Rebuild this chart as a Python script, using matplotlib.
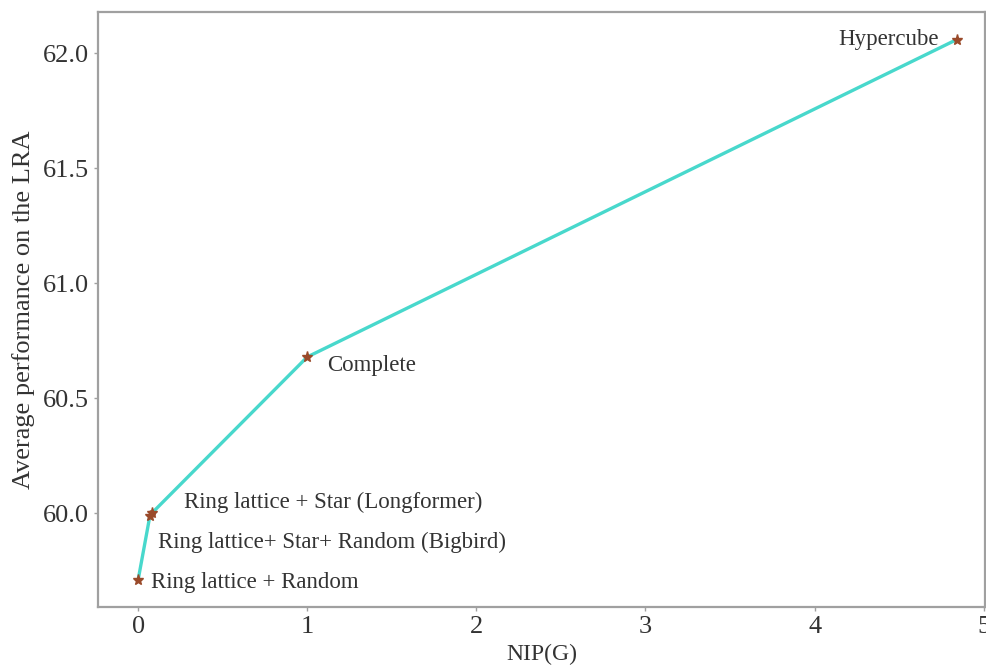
import matplotlib
matplotlib.use("Agg")
import matplotlib.pyplot as plt

# NIP(G) vs average LRA performance
names = ["Ring lattice + Random",
         "Ring lattice+ Star+ Random (Bigbird)",
         "Ring lattice + Star (Longformer)",
         "Complete",
         "Hypercube"]
nip = [0.0, 0.07, 0.08, 1.0, 4.84]
perf = [59.71, 59.99, 60.00, 60.68, 62.06]

# label offsets in points, and horizontal alignment
offsets = [(9, -2), (6, -19), (23, 8), (14, -6), (-13, 0)]
aligns = ["left", "left", "left", "left", "right"]

plt.rcParams["font.family"] = ["Liberation Serif", "DejaVu Serif"]

fig = plt.figure(figsize=(9.86, 6.66), dpi=100)
ax = fig.add_axes([0.0994, 0.0886, 0.90, 0.8934])

ax.plot(nip, perf, color="#48d8cc", lw=2.4, zorder=2)
ax.plot(nip, perf, ls="none", marker="*", ms=8, color="#9a4a2a", zorder=3)

for n, x, y, off, ha in zip(names, nip, perf, offsets, aligns):
    ax.annotate(n, (x, y), xytext=off, textcoords="offset points",
                ha=ha, va="center", fontsize=16.5, color="#333333")

ax.set_xlim(-0.237, 5.01)
ax.set_ylim(59.593, 62.18)
ax.set_xticks([0, 1, 2, 3, 4, 5])
ax.set_yticks([60.0, 60.5, 61.0, 61.5, 62.0])
ax.set_yticklabels(["60.0", "60.5", "61.0", "61.5", "62.0"])

for s in ax.spines.values():
    s.set_color("#a0a0a0")
    s.set_linewidth(1.6)
ax.tick_params(colors="#a0a0a0", labelcolor="#333333", labelsize=19, length=3, width=1)

ax.set_xlabel("NIP(G)", fontsize=17, color="#333333", labelpad=4)
ax.set_ylabel("Average performance on the LRA", fontsize=19, color="#333333", labelpad=6)

fig.savefig("out.png", dpi=100)
